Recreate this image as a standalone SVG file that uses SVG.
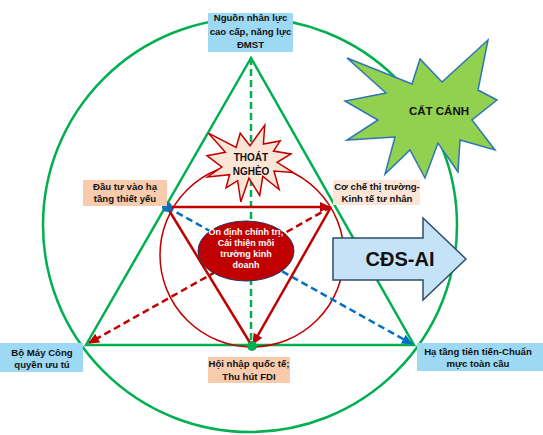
<svg xmlns="http://www.w3.org/2000/svg" width="543" height="435" viewBox="0 0 543 435">
<style>
.t{font-family:"Liberation Sans",Arial,sans-serif;font-weight:bold;font-size:9.6px;fill:#111;text-anchor:middle}
.blue{fill:#9DD9F3}
.peach{fill:#F8CBAD}
.lpeach{fill:#FBE5D6}
.g{stroke:#00B050;stroke-width:2.5;fill:none}
</style>
<defs>
<marker id="ar" markerUnits="userSpaceOnUse" markerWidth="12" markerHeight="12" refX="10" refY="6" orient="auto"><path d="M0,1 L11,6 L0,11 Z" fill="#C00000"/></marker>
<marker id="ab" markerUnits="userSpaceOnUse" markerWidth="12" markerHeight="12" refX="10" refY="6" orient="auto"><path d="M0,1 L11,6 L0,11 Z" fill="#0070C0"/></marker>
</defs>
<rect width="543" height="435" fill="#fff"/>
<g id="frame">
<circle cx="250" cy="225" r="207" class="g"/>
<polygon points="251,58 86,345 414,345" class="g"/>
<circle cx="252" cy="255" r="92" fill="none" stroke="#C00000" stroke-width="1.5"/>
</g>
<g id="connectors">
<line x1="251" y1="58" x2="251" y2="345" stroke="#00B050" stroke-width="2.5" stroke-dasharray="7,4"/>
<line x1="167" y1="207" x2="412" y2="344" stroke="#0070C0" stroke-width="2.5" stroke-dasharray="7,4" marker-end="url(#ab)"/>
<line x1="331" y1="207" x2="89" y2="343" stroke="#C00000" stroke-width="2.5" stroke-dasharray="7,4" marker-end="url(#ar)"/>
<line x1="167" y1="207" x2="330" y2="207" stroke="#C00000" stroke-width="2.5" marker-end="url(#ar)"/>
<line x1="331" y1="207" x2="253" y2="344" stroke="#C00000" stroke-width="2.5" marker-end="url(#ar)"/>
<line x1="252" y1="346" x2="167" y2="207" stroke="#C00000" stroke-width="2.5"/>
<circle cx="167" cy="207" r="5" fill="#0070C0"/>
<circle cx="252" cy="346" r="5" fill="#00B050"/>
</g>
<g id="thoat-ngheo">
<polygon points="250,145.7 264.8,125 263.4,144 280.2,140.9 273.5,151.1 291,154 277.1,162.3 293,172.4 274,171.1 279.2,189.5 262.8,176.5 259.7,195.4 248.9,178.2 240.8,202 237.7,180.7 226,187.8 229.6,174.7 207.5,177 221.8,167 207,155.7 225.4,152.2 208.5,133.2 236.1,147.5 240.2,133.2" fill="#FBE5D6" stroke="#C00000" stroke-width="1.5"/>
<text class="t" x="251" y="161" style="font-size:10px">THOÁT</text>
<text class="t" x="251" y="175" style="font-size:10px">NGHÈO</text>
</g>
<g id="cat-canh">
<polygon points="347,58 412,84 420,59 442,82 488,40 478,90 497,100 472,120 495,150 460,140 458,172 438,143 425,178 410,150 385,174 395,137 347,140 378,120 345,101 386,93" fill="#92D050" stroke="#2E75B6" stroke-width="1.5"/>
<text class="t" x="439" y="115" style="font-size:11.5px">CẤT CÁNH</text>
</g>
<g id="core">
<ellipse cx="246" cy="251" rx="48" ry="30" fill="#C00000" stroke="#203864" stroke-width="1"/>
<text class="t" x="246" y="235" style="fill:#fff;font-size:9px">Ổn định chính trị;</text>
<text class="t" x="246" y="246" style="fill:#fff;font-size:9px">Cải thiện môi</text>
<text class="t" x="246" y="257" style="fill:#fff;font-size:9px">trường kinh</text>
<text class="t" x="246" y="268" style="fill:#fff;font-size:9px">doanh</text>
</g>
<g id="cds-ai">
<path d="M333,238 L423,238 L423,218 L466,259 L423,300 L423,280 L333,280 Z" fill="#C5E3F6" stroke="#2F4B6E" stroke-width="1.5"/>
<text class="t" x="400" y="266" style="font-size:20px">CĐS-AI</text>
</g>
<g id="nguon-nhan-luc">
<rect x="208" y="13" width="85" height="39" class="blue"/>
<text class="t" x="250.5" y="21">Nguồn nhân lực</text>
<text class="t" x="250.5" y="35">cao cấp, năng lực</text>
<text class="t" x="250.5" y="48">ĐMST</text>
</g>
<g id="dau-tu">
<rect x="83" y="180" width="84" height="26" class="peach"/>
<text class="t" x="125" y="190">Đầu tư vào hạ</text>
<text class="t" x="125" y="202">tầng thiết yếu</text>
</g>
<g id="co-che">
<rect x="333" y="180" width="87" height="25" class="lpeach"/>
<text class="t" x="377" y="190">Cơ chế thị trường-</text>
<text class="t" x="377" y="202">Kinh tế tư nhân</text>
</g>
<g id="bo-may">
<rect x="0" y="343" width="83" height="29" class="blue"/>
<text class="t" x="42" y="356">Bộ Máy Công</text>
<text class="t" x="42" y="368">quyền ưu tú</text>
</g>
<g id="ha-tang">
<rect x="417" y="343" width="126" height="28" class="blue"/>
<text class="t" x="478" y="355">Hạ tầng tiên tiến-Chuẩn</text>
<text class="t" x="478" y="367">mực toàn cầu</text>
</g>
<g id="hoi-nhap">
<rect x="208" y="357" width="82" height="26" class="peach"/>
<text class="t" x="249" y="367">Hội nhập quốc tế;</text>
<text class="t" x="249" y="380">Thu hút FDI</text>
</g>
</svg>
